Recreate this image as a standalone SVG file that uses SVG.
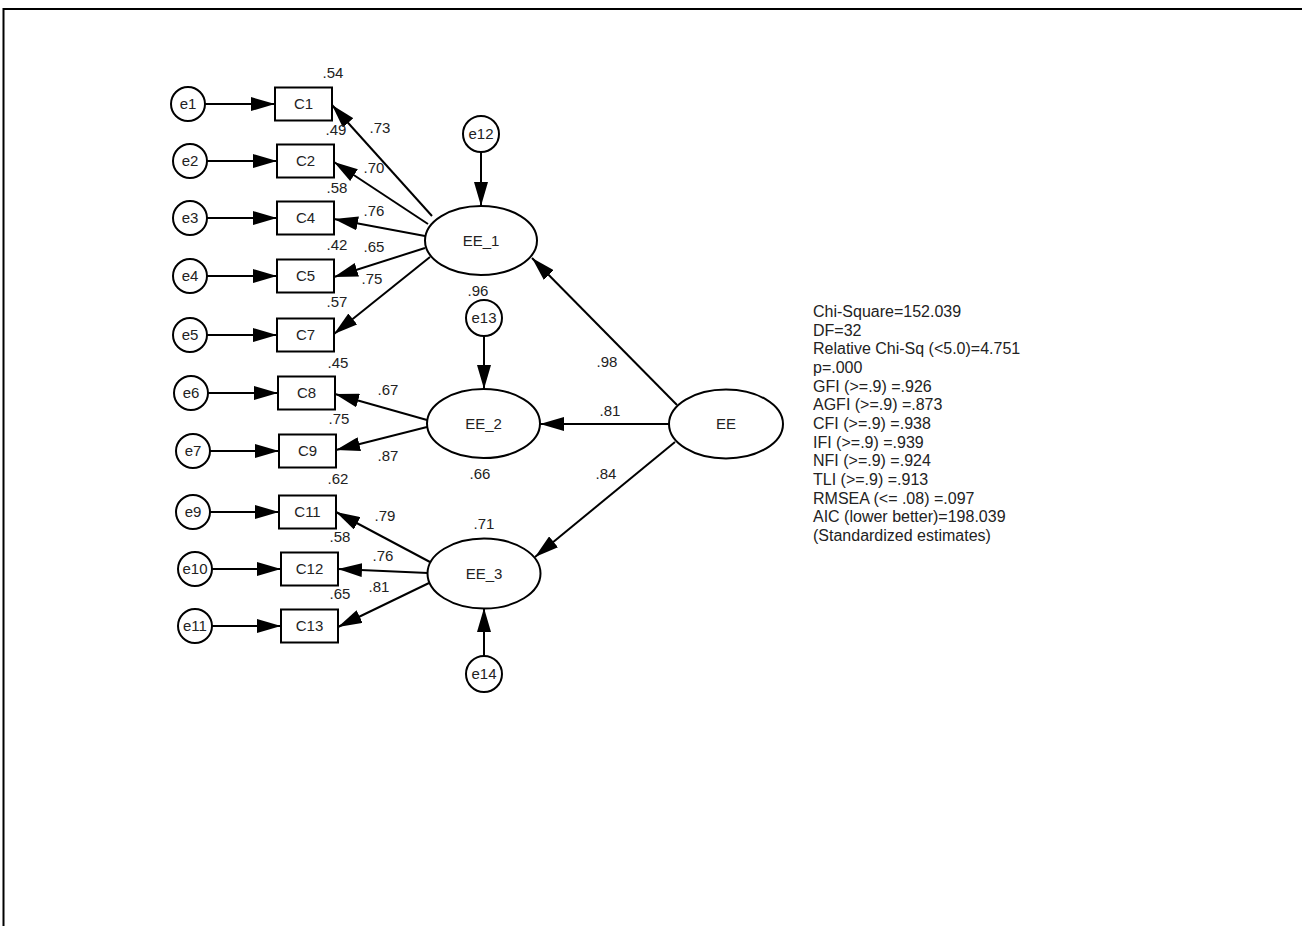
<svg xmlns="http://www.w3.org/2000/svg" width="1302" height="926" viewBox="0 0 1302 926">
<style>
text{font-family:"Liberation Sans",Arial,sans-serif;fill:#222;}
.lbl{font-size:15px;text-anchor:middle;}
.nm{font-size:15px;text-anchor:middle;}
.st{font-size:16px;}
.shp{fill:#fff;stroke:#000;stroke-width:2;}
.con line{stroke:#000;stroke-width:2;marker-end:url(#ah);}
</style>
<defs>
<marker id="ah" viewBox="0 0 24 14" markerWidth="24" markerHeight="14" refX="24" refY="7" orient="auto" markerUnits="userSpaceOnUse">
<path d="M0,0 L24,7 L0,14 z" fill="#000"/>
</marker>
</defs>
<rect width="1302" height="926" fill="#fff"/>
<path d="M3.5,926 V9 H1302" fill="none" stroke="#000" stroke-width="2"/>

<g class="con" id="connectors">
<line x1="205" y1="104" x2="275" y2="104"/>
<line x1="207" y1="161" x2="277" y2="161"/>
<line x1="207" y1="218" x2="277" y2="218"/>
<line x1="207" y1="276" x2="277" y2="276"/>
<line x1="207" y1="335" x2="277" y2="335"/>
<line x1="208" y1="393" x2="278" y2="393"/>
<line x1="210" y1="451" x2="279" y2="451"/>
<line x1="210" y1="512" x2="279" y2="512"/>
<line x1="212" y1="569" x2="281" y2="569"/>
<line x1="212" y1="626" x2="281" y2="626"/>
<line x1="432" y1="216" x2="332" y2="105"/>
<line x1="428" y1="224" x2="334" y2="162"/>
<line x1="425" y1="236" x2="334" y2="219"/>
<line x1="425" y1="248" x2="334" y2="277"/>
<line x1="430" y1="257" x2="334" y2="334"/>
<line x1="427" y1="420" x2="335" y2="394"/>
<line x1="427" y1="427" x2="336" y2="450"/>
<line x1="430" y1="562" x2="336" y2="512"/>
<line x1="428" y1="573" x2="338" y2="569"/>
<line x1="429" y1="583" x2="338" y2="627"/>
<line x1="677" y1="405" x2="532" y2="258"/>
<line x1="669" y1="424" x2="540" y2="424"/>
<line x1="675" y1="442" x2="535" y2="557"/>
<line x1="481" y1="152" x2="481" y2="206"/>
<line x1="484" y1="336" x2="484" y2="389"/>
<line x1="484" y1="656" x2="484" y2="608"/>
</g>

<g id="e1"><circle class="shp" cx="188" cy="104" r="17"/><text class="nm" x="188" y="109">e1</text></g>
<g id="e2"><circle class="shp" cx="190" cy="161" r="17"/><text class="nm" x="190" y="166">e2</text></g>
<g id="e3"><circle class="shp" cx="190" cy="218" r="17"/><text class="nm" x="190" y="223">e3</text></g>
<g id="e4"><circle class="shp" cx="190" cy="276" r="17"/><text class="nm" x="190" y="281">e4</text></g>
<g id="e5"><circle class="shp" cx="190" cy="335" r="17"/><text class="nm" x="190" y="340">e5</text></g>
<g id="e6"><circle class="shp" cx="191" cy="393" r="17"/><text class="nm" x="191" y="398">e6</text></g>
<g id="e7"><circle class="shp" cx="193" cy="451" r="17"/><text class="nm" x="193" y="456">e7</text></g>
<g id="e9"><circle class="shp" cx="193" cy="512" r="17"/><text class="nm" x="193" y="517">e9</text></g>
<g id="e10"><circle class="shp" cx="195" cy="569" r="17"/><text class="nm" x="195" y="574">e10</text></g>
<g id="e11"><circle class="shp" cx="195" cy="626" r="17"/><text class="nm" x="195" y="631">e11</text></g>
<g id="e12"><circle class="shp" cx="481" cy="134" r="18"/><text class="nm" x="481" y="139">e12</text></g>
<g id="e13"><circle class="shp" cx="484" cy="318" r="18"/><text class="nm" x="484" y="323">e13</text></g>
<g id="e14"><circle class="shp" cx="484" cy="674" r="18"/><text class="nm" x="484" y="679">e14</text></g>

<g id="C1"><rect class="shp" x="275" y="87.5" width="57" height="33"/><text class="nm" x="303.5" y="109">C1</text></g>
<g id="C2"><rect class="shp" x="277" y="144.5" width="57" height="33"/><text class="nm" x="305.5" y="166">C2</text></g>
<g id="C4"><rect class="shp" x="277" y="201.5" width="57" height="33"/><text class="nm" x="305.5" y="223">C4</text></g>
<g id="C5"><rect class="shp" x="277" y="259.5" width="57" height="33"/><text class="nm" x="305.5" y="281">C5</text></g>
<g id="C7"><rect class="shp" x="277" y="318.5" width="57" height="33"/><text class="nm" x="305.5" y="340">C7</text></g>
<g id="C8"><rect class="shp" x="278" y="376.5" width="57" height="33"/><text class="nm" x="306.5" y="398">C8</text></g>
<g id="C9"><rect class="shp" x="279" y="434.5" width="57" height="33"/><text class="nm" x="307.5" y="456">C9</text></g>
<g id="C11"><rect class="shp" x="279" y="495.5" width="57" height="33"/><text class="nm" x="307.5" y="517">C11</text></g>
<g id="C12"><rect class="shp" x="281" y="552.5" width="57" height="33"/><text class="nm" x="309.5" y="574">C12</text></g>
<g id="C13"><rect class="shp" x="281" y="609.5" width="57" height="33"/><text class="nm" x="309.5" y="631">C13</text></g>

<g id="EE_1"><ellipse class="shp" cx="481" cy="240.5" rx="56" ry="34.5"/><text class="nm" x="481" y="246">EE_1</text></g>
<g id="EE_2"><ellipse class="shp" cx="483.5" cy="423.5" rx="56.5" ry="34.5"/><text class="nm" x="483.5" y="429">EE_2</text></g>
<g id="EE_3"><ellipse class="shp" cx="484" cy="573.5" rx="56.5" ry="35"/><text class="nm" x="484" y="579">EE_3</text></g>
<g id="EE"><ellipse class="shp" cx="726" cy="424" rx="57" ry="34.5"/><text class="nm" x="726" y="429">EE</text></g>

<g id="labels">
<text class="lbl" x="333" y="78">.54</text>
<text class="lbl" x="380" y="133">.73</text>
<text class="lbl" x="336" y="135">.49</text>
<text class="lbl" x="374" y="173">.70</text>
<text class="lbl" x="337" y="193">.58</text>
<text class="lbl" x="374" y="216">.76</text>
<text class="lbl" x="337" y="250">.42</text>
<text class="lbl" x="374" y="252">.65</text>
<text class="lbl" x="372" y="284">.75</text>
<text class="lbl" x="337" y="307">.57</text>
<text class="lbl" x="478" y="296">.96</text>
<text class="lbl" x="338" y="368">.45</text>
<text class="lbl" x="388" y="395">.67</text>
<text class="lbl" x="339" y="424">.75</text>
<text class="lbl" x="388" y="461">.87</text>
<text class="lbl" x="338" y="484">.62</text>
<text class="lbl" x="607" y="367">.98</text>
<text class="lbl" x="610" y="416">.81</text>
<text class="lbl" x="480" y="479">.66</text>
<text class="lbl" x="606" y="479">.84</text>
<text class="lbl" x="484" y="529">.71</text>
<text class="lbl" x="385" y="521">.79</text>
<text class="lbl" x="340" y="542">.58</text>
<text class="lbl" x="383" y="561">.76</text>
<text class="lbl" x="379" y="592">.81</text>
<text class="lbl" x="340" y="599">.65</text>
</g>

<g id="fit">
<text class="st" x="813" y="317">Chi-Square=152.039</text>
<text class="st" x="813" y="335.7">DF=32</text>
<text class="st" x="813" y="354.3">Relative Chi-Sq (&lt;5.0)=4.751</text>
<text class="st" x="813" y="373">p=.000</text>
<text class="st" x="813" y="391.7">GFI (&gt;=.9) =.926</text>
<text class="st" x="813" y="410.3">AGFI (&gt;=.9) =.873</text>
<text class="st" x="813" y="429">CFI (&gt;=.9) =.938</text>
<text class="st" x="813" y="447.7">IFI (&gt;=.9) =.939</text>
<text class="st" x="813" y="466.3">NFI (&gt;=.9) =.924</text>
<text class="st" x="813" y="485">TLI (&gt;=.9) =.913</text>
<text class="st" x="813" y="503.7">RMSEA (&lt;= .08) =.097</text>
<text class="st" x="813" y="522.3">AIC (lower better)=198.039</text>
<text class="st" x="813" y="541">(Standardized estimates)</text>
</g>
</svg>
